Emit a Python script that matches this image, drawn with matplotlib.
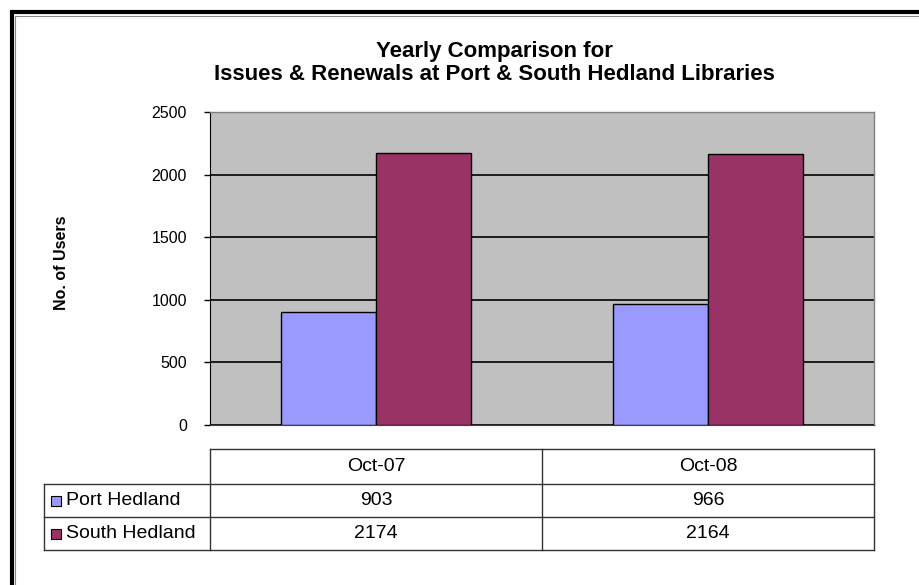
import matplotlib
matplotlib.use("Agg")
import matplotlib.pyplot as plt
from matplotlib.patches import Rectangle
from matplotlib.lines import Line2D
import matplotlib.transforms as mtransforms

plt.rcParams['font.family'] = ['Liberation Sans', 'DejaVu Sans']

categories = ["Oct-07", "Oct-08"]
series_names = ["Port Hedland", "South Hedland"]
port_hedland = [903, 966]
south_hedland = [2174, 2164]
series_values = [port_hedland, south_hedland]
series_colors = ["#9999FF", "#993366"]
y_ticks = [0, 500, 1000, 1500, 2000, 2500]

W, H = 920, 585
fig = plt.figure(figsize=(W / 100, H / 100), dpi=100)
fig.patch.set_facecolor("white")


def fx(px):
    return px / W


def fy(py):
    return 1 - py / H


# plot area
ax = fig.add_axes([fx(210), fy(425), fx(874) - fx(210), fy(112) - fy(425)])
ax.set_facecolor("#C0C0C0")
ax.set_xlim(-0.5, len(categories) - 0.5)
ax.set_ylim(0, 2500)
ax.set_yticks(y_ticks)
ax.set_yticklabels([str(v) for v in y_ticks], fontsize=11.5)
ax.set_xticks([])
ax.yaxis.grid(True, color="black", linewidth=1.2)
ax.set_axisbelow(True)
ax.tick_params(axis="y", length=4, width=1, pad=12.5, color="black")

for s in ("top", "right"):
    ax.spines[s].set_color("#808080")
    ax.spines[s].set_linewidth(1)
ax.spines["left"].set_color("black")
ax.spines["bottom"].set_color("#404040")

bar_w = 0.286
xs = range(len(categories))
for i, (vals, col) in enumerate(zip(series_values, series_colors)):
    offs = (i - 0.5) * bar_w
    ax.bar([x + offs for x in xs], vals, width=bar_w, color=col,
           edgecolor="black", linewidth=1.0, zorder=3)

# value axis title
fig.text(fx(61), fy(263), "No. of Users", rotation=90, fontsize=11.5,
         fontweight="bold", ha="center", va="center")

# chart title
fig.text(fx(494), fy(52), "Yearly Comparison for", fontsize=16,
         fontweight="bold", ha="center", va="center")
fig.text(fx(494), fy(75), "Issues & Renewals at Port & South Hedland Libraries",
         fontsize=16, fontweight="bold", ha="center", va="center")

# data table under the plot, columns aligned with the categories
blend = mtransforms.blended_transform_factory(ax.transData, fig.transFigure)
row_y = [449, 484, 517, 550]
lc = "#333333"
x_left = -0.5
x_right = len(categories) - 0.5
leg_left = ax.transData.inverted().transform((44, 0))[0]


def hline(x0, x1, y):
    fig.add_artist(Line2D([x0, x1], [fy(y), fy(y)], transform=blend,
                          color=lc, linewidth=1.0))


def vline(x, y0, y1):
    fig.add_artist(Line2D([x, x], [fy(y0), fy(y1)], transform=blend,
                          color=lc, linewidth=1.0))


hline(x_left, x_right, row_y[0])
for y in row_y[1:]:
    hline(leg_left, x_right, y)
vline(leg_left, row_y[1], row_y[3])
for k in range(len(categories) + 1):
    vline(x_left + k, row_y[0], row_y[3])

for j, cat in enumerate(categories):
    fig.text(j, (fy(row_y[0]) + fy(row_y[1])) / 2, cat, transform=blend,
             fontsize=14, ha="center", va="center")

for i, (name, vals, col) in enumerate(zip(series_names, series_values, series_colors)):
    yc = (fy(row_y[i + 1]) + fy(row_y[i + 2])) / 2
    fig.add_artist(Rectangle((fx(51), yc - 5 / H), 10 / W, 10 / H,
                             transform=fig.transFigure, facecolor=col,
                             edgecolor="black", linewidth=0.8))
    fig.text(fx(66), yc, name, fontsize=14, ha="left", va="center")
    for j, v in enumerate(vals):
        fig.text(j, yc, str(v), transform=blend, fontsize=14,
                 ha="center", va="center")

# chart frame
fig.add_artist(Rectangle((fx(12), fy(700)), 2.0, fy(12) - fy(700),
                         transform=fig.transFigure, fill=False,
                         edgecolor="black", linewidth=3.0))
fig.add_artist(Rectangle((fx(15.5), fy(700)), 2.0, fy(15.5) - fy(700),
                         transform=fig.transFigure, fill=False,
                         edgecolor="#888888", linewidth=0.8))

fig.savefig("out.png", dpi=100, facecolor="white")
